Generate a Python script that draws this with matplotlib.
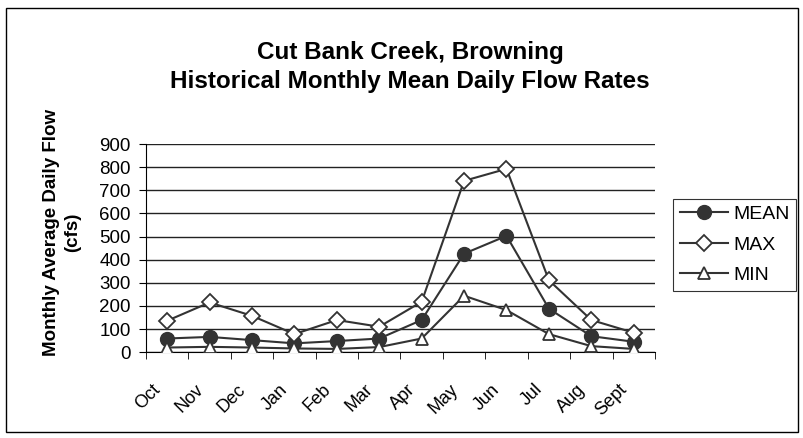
import matplotlib.pyplot as plt
import matplotlib.transforms as mtransforms
import numpy as np

plt.rcParams['font.family'] = ['Liberation Sans', 'DejaVu Sans']

months = ['Oct', 'Nov', 'Dec', 'Jan', 'Feb', 'Mar', 'Apr', 'May', 'Jun', 'Jul', 'Aug', 'Sept']
mean_flow = [59, 66, 52, 38, 48, 59, 139, 426, 503, 188, 69, 45]
max_flow = [136, 215, 157, 78, 139, 110, 218, 741, 793, 311, 139, 84]
min_flow = [20, 23, 20, 16, 14, 22, 59, 244, 182, 78, 26, 14]

fig = plt.figure(figsize=(8.04, 4.38), dpi=100)
# outer chart border
fig.patches.append(plt.Rectangle((0.008, 0.013), 0.984, 0.968, transform=fig.transFigure,
                                 fill=False, edgecolor='black', linewidth=1.0))

ax = fig.add_axes([0.1816, 0.196, 0.633, 0.475])
x = np.arange(len(months))
lc = '#333333'
ax.plot(x, mean_flow, color=lc, lw=1.5, marker='o', ms=10, mfc=lc, mec=lc, label='MEAN', zorder=3)
ax.plot(x, max_flow, color=lc, lw=1.5, marker='D', ms=8, mfc='white', mec=lc, mew=1.3, label='MAX', zorder=3)
ax.plot(x, min_flow, color=lc, lw=1.5, marker='^', ms=9, mfc='white', mec=lc, mew=1.3, label='MIN', zorder=3)

ax.set_xlim(-0.5, len(months) - 0.5)
ax.set_ylim(0, 900)
ax.set_yticks(range(0, 901, 100))
ax.yaxis.grid(True, color='#222222', lw=1.0)
ax.set_axisbelow(True)

ax.set_xticks(x)
ax.set_xticklabels(months, rotation=45, ha='right', va='center', rotation_mode='anchor', fontsize=13)
ax.tick_params(axis='x', which='major', length=0, pad=25)
# shift month labels a little to the left, like the original
shift = mtransforms.ScaledTranslation(-0.09, 0, fig.dpi_scale_trans)
for lbl in ax.get_xticklabels():
    lbl.set_transform(lbl.get_transform() + shift)
ax.set_xticks(np.arange(-0.5, len(months), 1), minor=True)
ax.tick_params(axis='x', which='minor', length=5, color='black', direction='out')
ax.tick_params(axis='y', length=5, color='black', labelsize=13.5, pad=6)

for s in ['top', 'right']:
    ax.spines[s].set_visible(False)
ax.spines['left'].set_color('black')
ax.spines['bottom'].set_color('black')

fig.text(0.077, 0.47, 'Monthly Average Daily Flow\n(cfs)', rotation=90, ha='center', va='center',
         fontsize=13.5, fontweight='bold', linespacing=1.3)
fig.text(0.51, 0.847, 'Cut Bank Creek, Browning\nHistorical Monthly Mean Daily Flow Rates',
         ha='center', va='center', fontsize=17.5, fontweight='bold', linespacing=1.35)

leg = fig.legend(loc='upper left', bbox_to_anchor=(0.837, 0.546), fontsize=14,
                 frameon=True, fancybox=False, edgecolor='black', borderpad=0.35,
                 borderaxespad=0, handlelength=2.5, handletextpad=0.25, labelspacing=0.65)
leg.get_frame().set_linewidth(0.8)

fig.savefig('out.png', dpi=100)
